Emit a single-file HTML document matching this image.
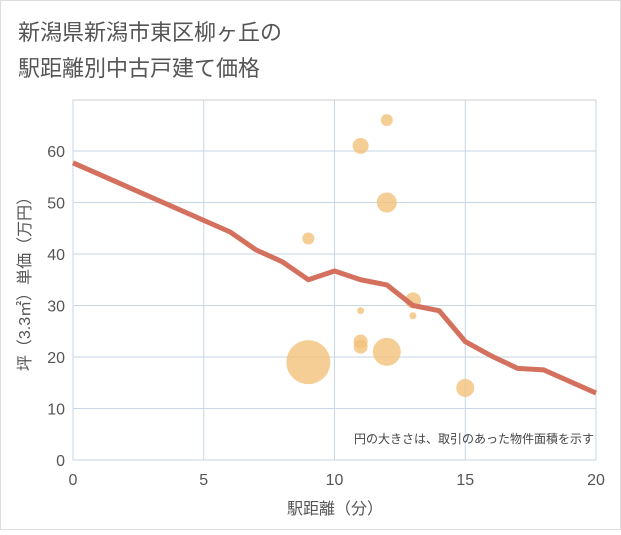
<!DOCTYPE html>
<html><head><meta charset="utf-8"><style>
body{margin:0;background:#fff;}
svg text{font-family:"Liberation Sans","Noto Sans CJK JP",sans-serif;}
</style></head><body>
<svg width="621" height="530" xmlns="http://www.w3.org/2000/svg">
<rect x="0.5" y="0.5" width="620" height="529" fill="#fff" stroke="#ddd"/>
<text x="18" y="40" font-size="22" fill="#555">新潟県新潟市東区柳ヶ丘の</text>
<text x="18" y="76" font-size="22" fill="#555">駅距離別中古戸建て価格</text>
<g id="grid"></g>
<g id="bubbles"></g>
<path id="line" fill="none" stroke="#d4705e" stroke-width="5" stroke-linejoin="round"/>
<g id="axes"></g>
<text x="594" y="443" font-size="12" fill="#444" text-anchor="end">円の大きさは、取引のあった物件面積を示す</text>
<text x="335" y="514" font-size="16" fill="#555" text-anchor="middle">駅距離（分）</text>
<text transform="translate(30,280) rotate(-90)" font-size="16" fill="#555" text-anchor="middle">坪（3.3㎡）単価（万円）</text>
</svg>
<script>
const xTicks=[0,5,10,15,20];
const yTicks=[0,10,20,30,40,50,60];
const lineX=[0,6,7,8,9,10,11,12,13,14,15,16,17,18,20];
const lineY=[57.7,44.3,40.8,38.5,35,36.7,35,34,30,29,23,20.2,17.8,17.5,13];
const bubX=[9,9,11,12,12,11,11,11,12,13,13,15];
const bubY=[19,43,61,66,50,29,23,22,21,31,28,14];
const bubR=[22,6,8,6,10,3.5,7,7,14,8,3.5,9];
const NS="http://www.w3.org/2000/svg";
const X0=73,X1=596,Y0=460,YT=100;
const sx=v=>X0+(X1-X0)*v/20;
const sy=v=>Y0-(Y0-151)*v/60;
const grid=document.getElementById('grid'),axes=document.getElementById('axes'),bub=document.getElementById('bubbles');
function mk(tag,attrs,parent){const e=document.createElementNS(NS,tag);for(const k in attrs)e.setAttribute(k,attrs[k]);parent.appendChild(e);return e;}
const border=mk('rect',{x:X0,y:YT,width:X1-X0,height:Y0-YT,fill:'none',stroke:'#ccc'},grid);


xTicks.forEach(t=>{
 const l=mk('line',{x1:sx(t),x2:sx(t),y1:YT,y2:Y0,stroke:'#c8d6e6','stroke-width':1},grid);
 
 
 const tx=mk('text',{x:sx(t),y:Y0+25,'font-size':16,fill:'#555','text-anchor':'middle'},axes);
 tx.textContent=t;
 
 
});
yTicks.forEach(t=>{
 const l=mk('line',{x1:X0,x2:X1,y1:sy(t),y2:sy(t),stroke:'#c8d6e6','stroke-width':1},grid);
 
 
 const tx=mk('text',{x:X0-8,y:sy(t)+6,'font-size':16,fill:'#555','text-anchor':'end'},axes);
 tx.textContent=t;
 
 
});
bubX.forEach((v,i)=>{
 const c=mk('circle',{cx:sx(v),cy:sy(bubY[i]),r:bubR[i],fill:'#f2c27a','fill-opacity':0.8},bub);
 
 
});
document.getElementById('line').setAttribute('d',lineX.map((v,i)=>(i?'L':'M')+sx(v)+','+sy(lineY[i])).join(' '));
</script>
</body></html>
